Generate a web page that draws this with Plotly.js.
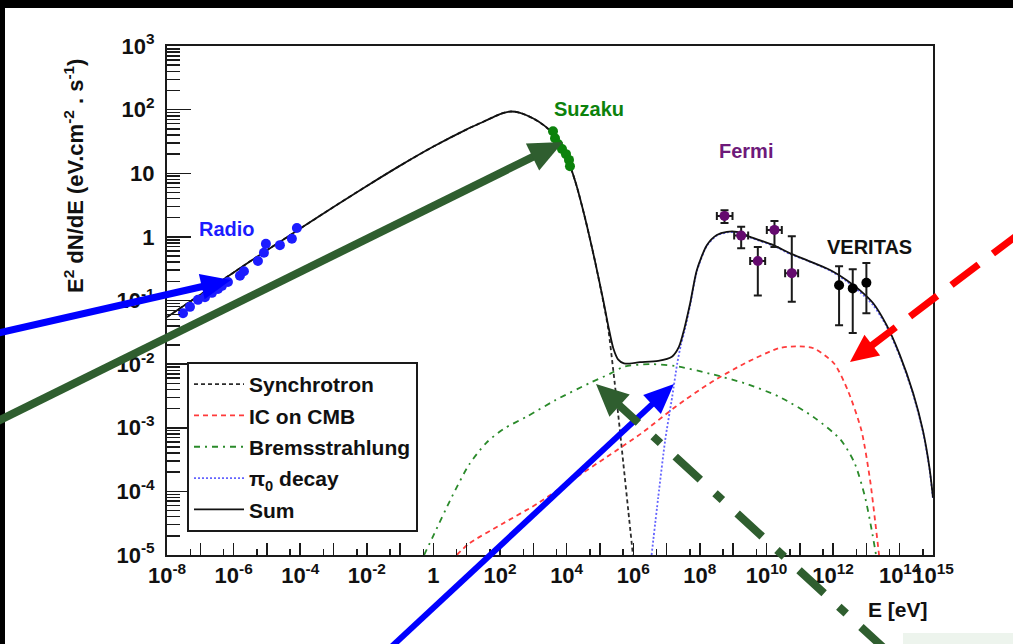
<!DOCTYPE html>
<html>
<head>
<meta charset="utf-8">
<script src="https://cdn.plot.ly/plotly-3.0.1.min.js"></script>
<style>
  html, body { margin: 0; padding: 0; background: #000; }
  #sheet { position: absolute; left: 5px; top: 8px; width: 1008px; height: 636px; background: #fff; }
  #chart { position: absolute; left: 0; top: 0; width: 1013px; height: 644px; }
</style>
</head>
<body>
<div id="sheet"></div>
<div id="chart"></div>
<script>
// ---- Model curves (log10 E [eV], log10 E^2 dN/dE [eV cm^-2 s^-1]) ----
const sumLogE = [-8, -7, -6, -5, -4, -3, -2, -1, 0, 1, 1.5, 2, 2.3, 2.6, 3.0, 3.3, 3.6, 3.85, 4.1, 4.3, 4.55, 4.85, 5.1, 5.25, 5.4, 5.55, 5.72, 6.2, 6.75, 7.17, 7.37, 7.53, 7.71, 7.91, 8.21, 8.51, 8.81, 9.11, 9.51, 10.21, 10.71, 11.21, 11.91, 12.41, 12.81, 13.2, 13.6, 14.0, 14.4, 14.7, 14.9, 15.0];
const sumLogF = [-1.26, -0.91, -0.56, -0.21, 0.13, 0.47, 0.80, 1.12, 1.42, 1.69, 1.81, 1.93, 1.97, 1.95, 1.86, 1.76, 1.62, 1.42, 1.12, 0.80, 0.30, -0.38, -1.0, -1.40, -1.75, -1.93, -1.99, -1.97, -1.95, -1.88, -1.73, -1.45, -1.04, -0.52, -0.13, 0.03, 0.08, 0.08, 0.0, -0.13, -0.26, -0.365, -0.52, -0.68, -0.84, -1.04, -1.38, -1.85, -2.45, -3.05, -3.65, -4.1];

const synLogE = [-8, -7, -6, -5, -4, -3, -2, -1, 0, 1, 1.5, 2, 2.3, 2.6, 3.0, 3.3, 3.6, 3.85, 4.1, 4.3, 4.55, 4.85, 5.1, 5.25, 5.4, 5.55, 5.7, 5.85, 6.0];
const synLogF = [-1.26, -0.91, -0.56, -0.21, 0.13, 0.47, 0.80, 1.12, 1.42, 1.69, 1.81, 1.93, 1.97, 1.95, 1.86, 1.76, 1.62, 1.42, 1.12, 0.80, 0.30, -0.38, -1.02, -1.45, -2.1, -2.8, -3.55, -4.3, -5.05];

const icLogE = [0.70, 1.07, 2.10, 3.13, 4.17, 5.20, 6.24, 7.27, 8.30, 9.34, 10.37, 10.89, 11.41, 12.03, 12.44, 12.85, 13.11, 13.27, 13.38];
const icLogF = [-5.0, -4.82, -4.50, -4.19, -3.82, -3.46, -3.09, -2.67, -2.30, -1.99, -1.75, -1.72, -1.75, -1.99, -2.41, -3.04, -3.82, -4.50, -5.0];

const bremLogE = [-0.28, 0.03, 0.55, 1.07, 1.58, 2.10, 2.82, 3.65, 4.68, 5.31, 5.72, 6.5, 7.27, 8.30, 9.34, 10.37, 11.41, 12.23, 12.65, 12.96, 13.16, 13.29];
const bremLogF = [-5.0, -4.66, -4.09, -3.58, -3.24, -3.02, -2.82, -2.57, -2.30, -2.15, -2.04, -2.0, -2.03, -2.15, -2.30, -2.51, -2.83, -3.19, -3.56, -4.09, -4.61, -5.0];

const pionLogE = [6.55, 6.75, 6.96, 7.17, 7.32, 7.43, 7.53, 7.71, 7.91, 8.21, 8.51, 8.81, 9.11, 9.51, 10.21, 10.71, 11.21, 11.91, 12.41, 12.81, 13.2, 13.6, 14.0, 14.4, 14.7, 14.9, 15.0];
const pionLogF = [-5.0, -4.09, -3.19, -2.51, -1.99, -1.70, -1.50, -1.07, -0.54, -0.14, 0.02, 0.07, 0.07, -0.01, -0.14, -0.27, -0.37, -0.53, -0.70, -0.87, -1.07, -1.40, -1.87, -2.47, -3.07, -3.67, -4.12];

// ---- Measurements ----
const radioLogE = [-7.52, -7.31, -7.07, -6.86, -6.65, -6.47, -6.35, -6.17, -5.81, -5.69, -5.27, -5.09, -5.03, -4.61, -4.25, -4.10];
const radioLogF = [-1.20, -1.10, -0.99, -0.95, -0.88, -0.82, -0.77, -0.71, -0.61, -0.54, -0.38, -0.25, -0.11, -0.13, -0.03, 0.14];

const suzakuLogE = [3.59, 3.65, 3.74, 3.86, 3.98, 4.07, 4.10];
const suzakuLogF = [1.66, 1.55, 1.46, 1.38, 1.30, 1.21, 1.11];

const fermiLogE   = [8.74, 9.24, 9.74, 10.24, 10.76];
const fermiLogELo = [8.51, 9.03, 9.51, 10.01, 10.56];
const fermiLogEHi = [8.98, 9.45, 9.96, 10.46, 10.95];
const fermiLogF   = [0.33, 0.02, -0.38, 0.11, -0.57];
const fermiLogFLo = [0.22, -0.18, -0.92, -0.16, -1.02];
const fermiLogFHi = [0.42, 0.16, -0.16, 0.25, 0.01];

const veritasLogE   = [12.18, 12.59, 13.0];
const veritasLogF   = [-0.76, -0.81, -0.72];
const veritasLogFLo = [-1.39, -1.51, -1.20];
const veritasLogFHi = [-0.46, -0.51, -0.41];

// ---- Axis ticks ----
const xTickExp  = [-8, -7, -6, -5, -4, -3, -2, -1, 0, 1, 2, 3, 4, 5, 6, 7, 8, 9, 10, 11, 12, 13, 14, 15];
const xLabelExp = [-8, -6, -4, -2, 0, 2, 4, 6, 8, 10, 12, 14, 15];
const yTickExp  = [-5, -4, -3, -2, -1, 0, 1, 2, 3];

// ---- helpers ----
const pow10 = a => a.map(v => Math.pow(10, v));
const expLabel = e => e === 0 ? '1' : (e === 1 ? '10' : '10<sup>' + e + '</sup>');

const FONT = 'Liberation Sans, Arial, Helvetica, sans-serif';
const INK = '#1a1a1a';

// plot-area frame in page pixels, used to place overlays in paper units
const PL = 167, PR = 933, PT = 46, PB = 555;
const fx = p => (p - PL) / (PR - PL);
const fy = p => (PB - p) / (PB - PT);

function errPlus(v, hi)  { return v.map((x, i) => Math.pow(10, hi[i]) - Math.pow(10, x)); }
function errMinus(v, lo) { return v.map((x, i) => Math.pow(10, x) - Math.pow(10, lo[i])); }

const curve = (name, lx, ly, color, width, dash, grp) => ({
  type: 'scatter', mode: 'lines', name: name, legendgroup: grp,
  x: pow10(lx), y: pow10(ly),
  line: { color: color, width: width, dash: dash, shape: 'spline', smoothing: 0.7 },
  hoverinfo: 'skip'
});

const traces = [
  curve('Synchrotron', synLogE, synLogF, '#2b2b2b', 1.8, '4px,3px', 'g1'),
  curve('IC on CMB', icLogE, icLogF, '#ff3b3b', 1.8, '5px,4px', 'g2'),
  curve('Bremsstrahlung', bremLogE, bremLogF, '#2a8a2a', 1.8, '6px,5px,2px,5px', 'g3'),
  curve('\u03c0<sub>0</sub> decay', pionLogE, pionLogF, '#6464ff', 1.8, '2px,2px', 'g4'),
  curve('Sum', sumLogE, sumLogF, '#111111', 1.8, 'solid', 'g5'),
  {
    type: 'scatter', mode: 'markers', showlegend: false, hoverinfo: 'skip',
    x: pow10(radioLogE), y: pow10(radioLogF),
    marker: { color: '#1c1cff', size: 10 }
  },
  {
    type: 'scatter', mode: 'markers', showlegend: false, hoverinfo: 'skip',
    x: pow10(suzakuLogE), y: pow10(suzakuLogF),
    marker: { color: '#0c820c', size: 10 }
  },
  {
    type: 'scatter', mode: 'markers', showlegend: false, hoverinfo: 'skip',
    x: pow10(fermiLogE), y: pow10(fermiLogF),
    marker: { color: '#640a6e', size: 10 },
    error_x: { type: 'data', symmetric: false, array: errPlus(fermiLogE, fermiLogEHi), arrayminus: errMinus(fermiLogE, fermiLogELo), color: INK, thickness: 2, width: 4 },
    error_y: { type: 'data', symmetric: false, array: errPlus(fermiLogF, fermiLogFHi), arrayminus: errMinus(fermiLogF, fermiLogFLo), color: INK, thickness: 2, width: 4 }
  },
  {
    type: 'scatter', mode: 'markers', showlegend: false, hoverinfo: 'skip',
    x: pow10(veritasLogE), y: pow10(veritasLogF),
    marker: { color: '#000000', size: 10 },
    error_y: { type: 'data', symmetric: false, array: errPlus(veritasLogF, veritasLogFHi), arrayminus: errMinus(veritasLogF, veritasLogFLo), color: INK, thickness: 2, width: 4 }
  }
];

// minor ticks: 5 x 10^n on E, 2..9 x 10^n on flux
const xMinor = [];
for (let e = -8; e < 15; e++) xMinor.push(5 * Math.pow(10, e));
const yMinor = [];
for (let e = -5; e < 3; e++) for (let m = 2; m <= 9; m++) yMinor.push(m * Math.pow(10, e));

// overlay arrows, page-pixel geometry
const arrows = [
  { x0: -6, y0: 334, x1: 231, y1: 280, color: '#0000ff', width: 7, dash: 'solid', head: 30, half: 13 },
  { x0: -6, y0: 423, x1: 563, y1: 142, color: '#2f5e2f', width: 8, dash: 'solid', head: 34, half: 15 },
  { x0: 1020, y0: 233, x1: 850, y1: 362, color: '#ff0000', width: 7, dash: '34px,18px', head: 28, half: 13 },
  { x0: 388, y0: 650, x1: 674, y1: 384, color: '#0000ff', width: 6, dash: 'solid', head: 30, half: 13 },
  { x0: 886, y0: 650, x1: 596, y1: 384, color: '#2f5e2f', width: 8, dash: '34px,20px,10px,20px', head: 32, half: 15 }
];

function arrowShapes(a) {
  const dx = a.x1 - a.x0, dy = a.y1 - a.y0, len = Math.hypot(dx, dy);
  const ux = dx / len, uy = dy / len, nx = -uy, ny = ux;
  const bx = a.x1 - ux * a.head, by = a.y1 - uy * a.head;
  return [
    { type: 'line', xref: 'paper', yref: 'paper', layer: 'above',
      x0: fx(a.x0), y0: fy(a.y0), x1: fx(bx + ux * 3), y1: fy(by + uy * 3),
      line: { color: a.color, width: a.width, dash: a.dash } },
    { type: 'path', xref: 'paper', yref: 'paper', layer: 'above',
      path: 'M' + fx(a.x1) + ',' + fy(a.y1) +
            ' L' + fx(bx + nx * a.half) + ',' + fy(by + ny * a.half) +
            ' L' + fx(bx - nx * a.half) + ',' + fy(by - ny * a.half) + ' Z',
      fillcolor: a.color, line: { width: 0 } }
  ];
}

const shapes = [
  { type: 'rect', xref: 'paper', yref: 'paper', layer: 'below',
    x0: fx(903), x1: fx(1013), y0: fy(633), y1: fy(644),
    fillcolor: '#edf4ed', line: { width: 0 } }
];
arrows.forEach(a => arrowShapes(a).forEach(s => shapes.push(s)));

const label = (text, px, py, color, size, anchor) => ({
  text: '<b>' + text + '</b>', xref: 'paper', yref: 'paper',
  x: fx(px), y: fy(py), xanchor: anchor || 'center', yanchor: 'middle',
  showarrow: false, font: { family: FONT, size: size, color: color }
});

const annotations = [
  label('Radio', 227, 229, '#1c1cff', 20),
  label('Suzaku', 589, 109, '#0c820c', 20),
  label('Fermi', 746, 151, '#6e1a7a', 20),
  label('VERITAS', 869, 247, '#111111', 20),
  label('E [eV]', 930, 609, '#111111', 21, 'right'),
  Object.assign(label('E<sup>2</sup> dN/dE (eV.cm<sup>-2</sup> . s<sup>-1</sup>)', 74, 176, '#111111', 22), { textangle: -90 })
];

const axisCommon = {
  type: 'log', tickmode: 'array', ticks: 'inside', tickcolor: INK, tickwidth: 1.5,
  showline: true, linecolor: INK, linewidth: 2, mirror: true,
  showgrid: false, zeroline: false, tickangle: 0,
  tickfont: { family: FONT, size: 22, color: '#111', weight: 'bold' }
};

const layout = {
  width: 1013, height: 644,
  margin: { l: PL, r: 1013 - PR, t: PT, b: 644 - PB },
  paper_bgcolor: 'rgba(0,0,0,0)', plot_bgcolor: '#ffffff',
  showlegend: true,
  legend: {
    x: fx(187), y: fy(362), xanchor: 'left', yanchor: 'top',
    bgcolor: '#ffffff', bordercolor: INK, borderwidth: 2,
    font: { family: FONT, size: 21, color: '#111', weight: 'bold' },
    tracegroupgap: 1, itemwidth: 50, traceorder: 'grouped'
  },
  xaxis: Object.assign({}, axisCommon, {
    range: [-8, 15],
    tickvals: pow10(xTickExp),
    ticktext: xTickExp.map(e => xLabelExp.indexOf(e) >= 0 ? expLabel(e) : ''),
    ticklen: 12,
    minor: { tickmode: 'array', tickvals: xMinor, ticks: 'inside', ticklen: 6, tickwidth: 1.5, tickcolor: INK, showgrid: false }
  }),
  yaxis: Object.assign({}, axisCommon, {
    range: [-5, 3],
    tickvals: pow10(yTickExp),
    ticktext: yTickExp.map(expLabel),
    ticklen: 24,
    ticklabelstandoff: 6,
    minor: { tickmode: 'array', tickvals: yMinor, ticks: 'inside', ticklen: 13, tickwidth: 1.5, tickcolor: INK, showgrid: false }
  }),
  shapes: shapes,
  annotations: annotations
};

Plotly.newPlot('chart', traces, layout, { displayModeBar: false, staticPlot: true });
</script>
</body>
</html>
